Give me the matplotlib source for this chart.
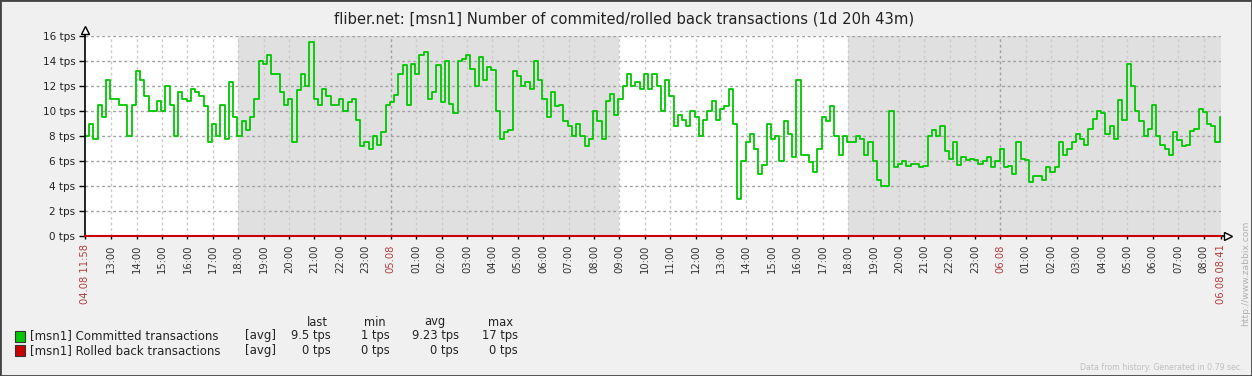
import matplotlib
matplotlib.use('Agg')
import matplotlib.pyplot as plt
from matplotlib.patches import Rectangle

# ---------------- data ----------------
title = "fliber.net: [msn1] Number of commited/rolled back transactions (1d 20h 43m)"
start_hour, start_minute = 11, 58          # 04.08 11:58
total_minutes = 2683                        # 1d 20h 43m -> ends 06.08 08:41
sample_interval_min = 10

committed = [
    8, 9, 7.8, 10.5, 9.5, 12.5, 11, 11, 10.5, 10.5, 8, 10.5, 13.2, 12.5, 11.2, 10,
    10, 10.8, 10, 12, 10.5, 8, 11.5, 11, 10.8, 11.8, 11.5, 11.2, 10.4, 7.5, 9, 8,
    10.5, 7.8, 12.3, 9.5, 8, 9.2, 8.5, 9.5, 11, 14, 13.8, 14.5, 13, 13, 11.5, 10.5,
    11, 7.5, 11.7, 13, 12, 15.5, 11, 10.5, 11.8, 11.2, 10.5, 10.5, 11, 10, 10.7, 11,
    9.3, 7.2, 7.5, 7, 8, 7.3, 8.3, 10.5, 10.7, 11.3, 13, 13.7, 10.5, 13.8, 13, 14.5,
    14.7, 11, 11.5, 13.7, 10.7, 14, 10.6, 9.8, 14, 14.2, 14.5, 13.4, 12, 14.3, 12.5,
    13.5, 13.3, 10, 7.8, 8.3, 8.5, 13.2, 12.8, 12, 12.3, 11.8, 14, 12.5, 11, 9.5, 11.5,
    10.4, 10.5, 9.2, 8.8, 8, 9, 8, 7.2, 7.8, 10, 9.2, 7.8, 10.8, 11.4, 9.7, 11,
    12, 13, 12, 12.3, 11.8, 13, 11.8, 13, 12, 10, 12.5, 11.2, 8.8, 9.7, 9.3,
    8.8, 10, 9.5, 8, 9.3, 10, 10.8, 9.3, 10.2, 10.4, 11.8, 9, 3, 6, 7.5, 8.2,
    7, 5, 5.7, 9, 7.8, 8, 6, 9.2, 8.2, 6.3, 12.5, 6.5, 6.5, 5.9, 5.1, 7,
    9.5, 9.2, 10.4, 8, 6.5, 8, 7.5, 7.5, 8, 7.8, 6.5, 7.5, 6, 4.5, 4, 4,
    10, 5.5, 5.8, 6, 5.6, 5.8, 5.8, 5.5, 5.6, 8, 8.5, 8, 8.8, 6.8, 6.2, 7.5,
    5.7, 6.3, 6.1, 6.2, 6.1, 5.8, 6, 6.3, 5.5, 6, 7, 5.5, 5.6, 5, 7.5, 6.2,
    6.1, 4.3, 4.8, 4.8, 4.5, 5.5, 5.1, 5.5, 7.5, 6.5, 7, 7.5, 8.2, 7.8, 7.3,
    8.6, 9.4, 10, 9.8, 8.2, 8.8, 7.8, 10.9, 9.3, 13.8, 12, 10, 9.2, 8, 8.6, 10.5,
    8, 7.3, 7, 6.5, 8.3, 7.7, 7.2, 7.3, 8.4, 8.6, 10.2, 9.9, 9, 8.8, 7.5, 9.5,
]
rolled_back_times = [0, 2683]
rolled_back = [0, 0]

# non-working periods (minutes from start)
shaded_periods = [(362, 1262), (1802, 2683)]

y_ticks = [0, 2, 4, 6, 8, 10, 12, 14, 16]
y_labels = ["0 tps", "2 tps", "4 tps", "6 tps", "8 tps", "10 tps", "12 tps", "14 tps", "16 tps"]

legend_names = ["[msn1] Committed transactions", "[msn1] Rolled back transactions"]
legend_colors = ["#00c800", "#c80000"]
legend_last = ["9.5 tps", "0 tps"]
legend_min = ["1 tps", "0 tps"]
legend_avg = ["9.23 tps", "0 tps"]
legend_max = ["17 tps", "0 tps"]

# ---------------- figure ----------------
W, H = 1252, 376
fig = plt.figure(figsize=(W / 100, H / 100), dpi=100, facecolor='#f0f0f0')
L, R, T, B = 85, 1221, 36, 236
ax = fig.add_axes([L / W, 1 - B / H, (R - L) / W, (B - T) / H])
ax.set_facecolor('white')
ax.set_xlim(0, total_minutes)
ax.set_ylim(0, 16)

for s, e in shaded_periods:
    ax.axvspan(s, e, color='#e0e0e0', lw=0, zorder=0)

for v in y_ticks[1:]:
    ax.axhline(v, color='#a0a0a0', lw=1, ls=(0, (2, 2)), zorder=1)

# hourly ticks
tick_pos, tick_lab, tick_col = [0], ["04.08 11:58"], ["#b04040"]
day = 4
m = (60 - start_minute) + 60  # 13:00
h = start_hour + 2
while m < total_minutes - 20:
    if h % 24 == 0:
        day += 1
        lab, col = "%02d.08" % day, "#b04040"
        ax.axvline(m, color='#a0a0a0', lw=1, ls=(0, (2, 2)), zorder=1)
    else:
        lab, col = "%02d:00" % (h % 24), "#333333"
        ax.axvline(m, color='#cccccc', lw=1, ls=(0, (2, 2)), zorder=1)
    tick_pos.append(m); tick_lab.append(lab); tick_col.append(col)
    m += 60
    h += 1
tick_pos.append(total_minutes); tick_lab.append("06.08 08:41"); tick_col.append("#b04040")

times = [i * sample_interval_min for i in range(len(committed))]
ax.step(times + [total_minutes], committed + [committed[-1]], where='post',
        color='#00c800', lw=1.3, zorder=3)

for sp in ax.spines.values():
    sp.set_visible(False)
# axes with arrows
ax.plot([0, 0], [0, 16.35], color='black', lw=1.2, clip_on=False, zorder=5)
ax.plot([0, total_minutes + 12], [0, 0], color='black', lw=1.2, clip_on=False, zorder=5)
ax.plot([0], [16.45], marker='^', ms=6, mfc='white', mec='black', mew=1, clip_on=False, zorder=6)
ax.plot([total_minutes + 17], [0], marker='>', ms=6, mfc='white', mec='black', mew=1, clip_on=False, zorder=6)
ax.plot(rolled_back_times, rolled_back, color='#c80000', lw=1.5, zorder=7, clip_on=False)

ax.set_yticks(y_ticks)
ax.set_yticklabels(y_labels)
ax.tick_params(axis='y', length=4, width=1, color='black', labelsize=7.5, labelcolor='#222222', pad=3)
ax.set_xticks(tick_pos)
ax.set_xticklabels(tick_lab, rotation=90, va='top', ha='center')
ax.tick_params(axis='x', length=2, width=1, color='black', labelsize=7.2, pad=4)
for lbl, c in zip(ax.get_xticklabels(), tick_col):
    lbl.set_color(c)

def ftext(x, y, s, **kw):
    fig.text(x / W, 1 - y / H, s, **kw)

ftext(624, 19, title, ha='center', va='center', fontsize=10.6, color='#222222')

# legend
for hdr, xc in zip(["last", "min", "avg", "max"], [317, 375, 435, 500]):
    ftext(xc, 322, hdr, ha='center', va='center', fontsize=8.3, color='#222222')
cols = [(331, legend_last), (390, legend_min), (459, legend_avg), (518, legend_max)]
for row, yy in enumerate([336, 350.5]):
    fig.patches.append(Rectangle((15 / W, 1 - (yy + 5.5) / H), 10 / W, 11 / H,
                                 transform=fig.transFigure, facecolor=legend_colors[row],
                                 edgecolor='#333333', lw=0.8))
    ftext(30, yy, legend_names[row], ha='left', va='center', fontsize=8.5, color='#222222')
    ftext(245, yy, "[avg]", ha='left', va='center', fontsize=8.5, color='#222222')
    for xr, vals in cols:
        ftext(xr, yy, vals[row], ha='right', va='center', fontsize=8.3, color='#222222')

ftext(1246, 273, "http://www.zabbix.com", ha='center', va='center', rotation=90,
      fontsize=6.6, color='#b0b0b0')
ftext(1243, 367, "Data from history. Generated in 0.79 sec.", ha='right', va='center',
      fontsize=5.7, color='#c0c0c0')

fig.patches.append(Rectangle((0, 0), 1, 1, transform=fig.transFigure, fill=False,
                             edgecolor='#444444', lw=2))

fig.savefig('out.png', dpi=100, facecolor=fig.get_facecolor())
